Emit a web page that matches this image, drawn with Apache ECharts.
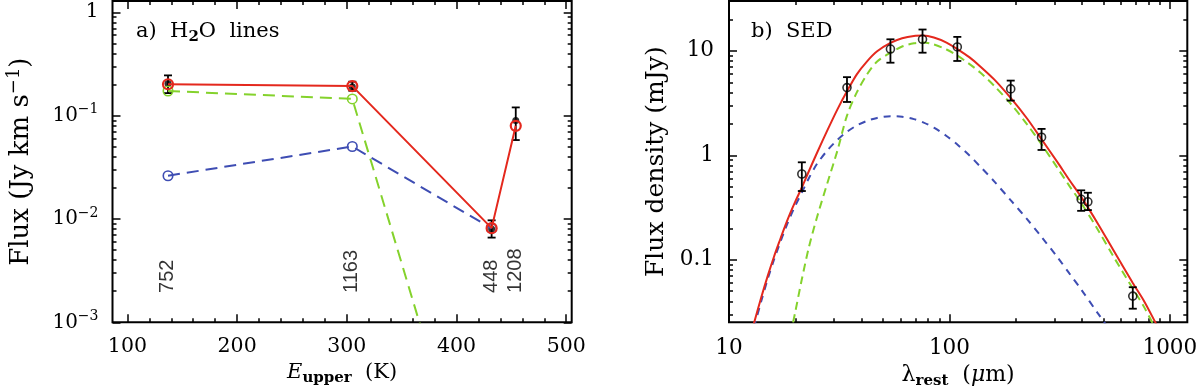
<!DOCTYPE html>
<html lang="en">
<head>
<meta charset="UTF-8">
<title>H2O lines / SED</title>
<script src="https://cdn.jsdelivr.net/npm/echarts@6/dist/echarts.min.js"></script>
<style>
    html, body { margin: 0; padding: 0; background: #fff; }
    #chart { width: 1200px; height: 389px; }
</style>
</head>
<body>
<div id="chart"></div>
<script>
// panel a) H2O lines
var eUpper    = [137, 305, 432, 454];
var lineFreq  = ['752', '1163', '448', '1208'];
var obsLine   = [0.205, 0.19, 0.0080, 0.0895];
var obsLineLo = [0.165, 0.174, 0.0066, 0.058];
var obsLineHi = [0.245, 0.213, 0.0097, 0.12];
var totLine   = [0.201, 0.193, 0.00815, 0.0796];
var coldLine  = [0.173, 0.145, 0.0000047];
var warmLine  = [0.0262, 0.0502, 0.0081];
var freqLabelY = 0.0019;

// panel b) SED
var sedWave = [21.4, 34.3, 54.0, 75.5, 108.6, 189.7, 261.8, 396, 424.6, 679];
var sedFlux = [0.662, 4.45, 10.4, 12.9, 10.9, 4.32, 1.49, 0.379, 0.359, 0.0449];
var sedLo   = [0.455, 3.24, 7.7, 9.6, 8.0, 3.34, 1.125, 0.294, 0.299, 0.034];
var sedHi   = [0.857, 5.6, 12.9, 16.0, 13.6, 5.19, 1.79, 0.462, 0.438, 0.0546];

var modelWave = [12, 13, 14, 15, 16, 17, 18, 19, 20, 21.4, 23, 25, 28, 31, 34.3, 38, 42.4, 47, 54, 61,
                 69, 76, 85, 97, 108.6, 123, 138, 160, 190, 225, 262, 310, 350, 396, 470, 554, 679, 760, 870, 950];
var modelTot  = [0.014, 0.025, 0.0435, 0.0705, 0.107, 0.153, 0.212, 0.282, 0.362, 0.492, 0.70, 1.04, 1.75, 2.74,
                 4.1, 5.96, 7.98, 9.9, 11.9, 13.2, 13.9, 14.0, 13.4, 12.0, 10.4, 8.7, 7.1, 5.3, 3.52, 2.25, 1.42,
                 0.85, 0.58, 0.40, 0.224, 0.124, 0.06, 0.041, 0.024, 0.017];
var modelCold = [null, null, null, null, null, null, null, 0.019, 0.032, 0.065, 0.13, 0.25, 0.55, 1.1,
                 2.4, 4.0, 6.0, 7.9, 9.6, 11.0, 11.8, 12.0, 11.5, 10.3, 9.0, 7.5, 6.2, 4.6, 3.1, 1.98, 1.27,
                 0.75, 0.51, 0.35, 0.196, 0.108, 0.053, 0.036, 0.021, 0.015];
var modelWarm = [0.013, 0.023, 0.04, 0.066, 0.1, 0.143, 0.197, 0.26, 0.33, 0.44, 0.6, 0.82, 1.12, 1.4,
                 1.68, 1.93, 2.14, 2.28, 2.37, 2.34, 2.22, 2.07, 1.84, 1.53, 1.27, 1.0, 0.78, 0.56, 0.37, 0.245,
                 0.165, 0.105, 0.074, 0.052, 0.031, 0.019, 0.01, null, null, null];

// ticks
var eTicks   = [100, 200, 300, 400, 500];
var eMinor   = [120, 140, 160, 180, 220, 240, 260, 280, 320, 340, 360, 380, 420, 440, 460, 480];
var fluxTicks = [0.001, 0.01, 0.1, 1];
var fluxTickText = ['{b|10}{s|\u22123}', '{b|10}{s|\u22122}', '{b|10}{s|\u22121}', '{b|1}'];
var fluxMinor = [0.002, 0.003, 0.004, 0.005, 0.006, 0.007, 0.008, 0.009,
                 0.02, 0.03, 0.04, 0.05, 0.06, 0.07, 0.08, 0.09,
                 0.2, 0.3, 0.4, 0.5, 0.6, 0.7, 0.8, 0.9];
var waveTicks = [10, 100, 1000];
var waveTickText = ['10', '100', '1000'];
var waveMinor = [20, 30, 40, 50, 60, 70, 80, 90, 200, 300, 400, 500, 600, 700, 800, 900];
var sedTicks = [0.1, 1, 10];
var sedTickText = ['0.1', '1', '10'];
var sedMinor = [0.03, 0.04, 0.05, 0.06, 0.07, 0.08, 0.09, 0.2, 0.3, 0.4, 0.5, 0.6, 0.7, 0.8, 0.9,
                2, 3, 4, 5, 6, 7, 8, 9, 20];

var SERIF = 'DejaVu Serif';
var RED = '#e4281d', GREEN = '#84d22c', BLUE = '#3e4db3';

function nearest(list, v) {
    var best = 0;
    for (var i = 1; i < list.length; i++) {
        if (Math.abs(Math.log(list[i] / v)) < Math.abs(Math.log(list[best] / v))) best = i;
    }
    return best;
}

// 4 axes per direction: labelled major, minor, mirrored major, mirrored minor
function axes(dim, grid, type, min, max, major, minor, label, name) {
    var sides = dim === 'x' ? ['bottom', 'top'] : ['left', 'right'];
    var out = [];
    sides.forEach(function (side, si) {
        [major, minor].forEach(function (vals, k) {
            var a = {
                type: type, gridIndex: grid, position: side, min: min, max: max,
                axisLine: {show: false},
                splitLine: {show: false},
                axisTick: {show: true, inside: true, length: k ? 4 : 8, customValues: vals,
                           lineStyle: {color: '#000', width: 1.5}},
                axisLabel: {show: false}
            };
            if (type === 'log') a.logBase = 10;
            if (si === 0 && k === 0) {
                a.axisLabel = label;
                for (var key in name) a[key] = name[key];
            }
            out.push(a);
        });
    });
    return out;
}

function rich(size, lh) {
    var sm = Math.round(size * 0.7);
    return {
        n: {fontFamily: SERIF, fontSize: size, lineHeight: lh, color: '#000'},
        i: {fontFamily: SERIF, fontSize: size, lineHeight: lh, fontStyle: 'italic', color: '#000'},
        sub: {fontFamily: SERIF, fontSize: sm, lineHeight: Math.round(lh * 0.4), fontWeight: 'bold',
              verticalAlign: 'bottom', color: '#000'},
        sup: {fontFamily: SERIF, fontSize: sm, lineHeight: sm, verticalAlign: 'top', color: '#000'},
        b: {fontFamily: SERIF, fontSize: size, lineHeight: lh, color: '#000'},
        s: {fontFamily: SERIF, fontSize: sm, lineHeight: sm, verticalAlign: 'top', color: '#000'}
    };
}

function errBar(params, api) {
    var x = api.value(0);
    var lo = api.coord([x, api.value(1)]);
    var hi = api.coord([x, api.value(2)]);
    var w = 4;
    var st = {stroke: '#000', lineWidth: 1.8};
    return {type: 'group', children: [
        {type: 'line', shape: {x1: lo[0], y1: lo[1], x2: hi[0], y2: hi[1]}, style: st},
        {type: 'line', shape: {x1: lo[0] - w, y1: lo[1], x2: lo[0] + w, y2: lo[1]}, style: st},
        {type: 'line', shape: {x1: hi[0] - w, y1: hi[1], x2: hi[0] + w, y2: hi[1]}, style: st}
    ]};
}

function pairs(xs, ys) {
    var out = [];
    for (var i = 0; i < ys.length; i++) if (ys[i] != null) out.push([xs[i], ys[i]]);
    return out;
}

var xAxes = [].concat(
    axes('x', 0, 'value', 86.4, 505, eTicks, eMinor,
        {show: true, customValues: eTicks, margin: 14, fontFamily: SERIF, fontSize: 20.5, color: '#000'},
        {name: '{i|E}{sub|upper}{n|  (K)}', nameLocation: 'middle', nameGap: 36,
         nameTextStyle: {rich: rich(21, 26)}}),
    axes('x', 1, 'log', 10, 1200, waveTicks, waveMinor,
        {show: true, customValues: waveTicks, margin: 15, fontFamily: SERIF, fontSize: 21.5, color: '#000',
         formatter: function (v) { return waveTickText[nearest(waveTicks, v)]; }},
        {name: '{n|\u03bb}{sub|rest}{n|  (}{i|\u03bc}{n|m)}', nameLocation: 'middle', nameGap: 37,
         nameTextStyle: {rich: rich(22, 26)}})
);

var yAxes = [].concat(
    axes('y', 0, 'log', 0.001, 1.285, fluxTicks, fluxMinor,
        {show: true, customValues: fluxTicks, margin: 14, rich: rich(20, 26),
         formatter: function (v) { return fluxTickText[nearest(fluxTicks, v)]; }},
        {name: '{n|Flux (Jy km s}{sup|\u22121}{n|)}', nameLocation: 'middle', nameGap: 75,
         nameTextStyle: {rich: rich(26, 32)}}),
    axes('y', 1, 'log', 0.0252, 30, sedTicks, sedMinor,
        {show: true, customValues: sedTicks, margin: 15, fontFamily: SERIF, fontSize: 21.5, color: '#000',
         formatter: function (v) { return sedTickText[nearest(sedTicks, v)]; }},
        {name: 'Flux density (mJy)', nameLocation: 'middle', nameGap: 58,
         nameTextStyle: {fontFamily: SERIF, fontSize: 25, lineHeight: 30, color: '#000'}})
);

var option = {
    animation: false,
    backgroundColor: '#fff',
    grid: [
        {left: 112.5, top: 1, width: 459.2, height: 321.3, show: true, borderColor: '#000', borderWidth: 2,
         containLabel: false, outerBoundsMode: 'none'},
        {left: 729, top: 1, width: 458.3, height: 321.3, show: true, borderColor: '#000', borderWidth: 2,
         containLabel: false, outerBoundsMode: 'none'}
    ],
    xAxis: xAxes,
    yAxis: yAxes,
    graphic: [
        {type: 'text', x: 136, y: 32, style: {text: '{n|a)  H}{sub|2}{n|O  lines}', rich: rich(21, 26),
                                               verticalAlign: 'middle', align: 'left'}},
        {type: 'text', x: 751, y: 32, style: {text: '{n|b)  SED}', rich: rich(21, 26),
                                               verticalAlign: 'middle', align: 'left'}}
    ],
    series: [
        // panel a
        {type: 'custom', xAxisIndex: 0, yAxisIndex: 0, renderItem: errBar, encode: {x: 0, y: [1, 2]},
         data: eUpper.map(function (e, i) { return [e, obsLineLo[i], obsLineHi[i]]; }), z: 3},
        {type: 'scatter', xAxisIndex: 0, yAxisIndex: 0, symbol: 'circle', symbolSize: 7,
         itemStyle: {color: '#000'}, data: pairs(eUpper, obsLine), z: 3},
        {type: 'line', xAxisIndex: 0, yAxisIndex: 0, data: pairs(eUpper, coldLine),
         symbol: 'circle', symbolSize: 9.5, showAllSymbol: true,
         itemStyle: {color: 'rgba(0,0,0,0)', borderColor: GREEN, borderWidth: 1.6},
         lineStyle: {color: GREEN, width: 2, type: [12, 7]}, z: 4},
        {type: 'line', xAxisIndex: 0, yAxisIndex: 0, data: pairs(eUpper, warmLine),
         symbol: 'circle', symbolSize: 9.5, showAllSymbol: true,
         itemStyle: {color: 'rgba(0,0,0,0)', borderColor: BLUE, borderWidth: 1.6},
         lineStyle: {color: BLUE, width: 2, type: [12, 7]}, z: 4},
        {type: 'line', xAxisIndex: 0, yAxisIndex: 0, data: pairs(eUpper, totLine),
         symbol: 'circle', symbolSize: 10, showAllSymbol: true,
         itemStyle: {color: 'rgba(0,0,0,0)', borderColor: RED, borderWidth: 2.2},
         lineStyle: {color: RED, width: 2}, z: 5},
        {type: 'scatter', xAxisIndex: 0, yAxisIndex: 0, symbolSize: 1, silent: true,
         itemStyle: {color: 'rgba(0,0,0,0)'},
         data: eUpper.map(function (e, i) { return {value: [e, freqLabelY], name: lineFreq[i]}; }),
         label: {show: true, formatter: '{b}', position: [0, 0], rotate: 90, align: 'left',
                 verticalAlign: 'middle', fontFamily: 'Liberation Sans', fontSize: 20, color: '#000'}, z: 6},
        // panel b
        {type: 'line', xAxisIndex: 4, yAxisIndex: 4, data: pairs(modelWave, modelWarm), showSymbol: false,
         smooth: 0.3, lineStyle: {color: BLUE, width: 2, type: [7, 6]}, z: 2},
        {type: 'line', xAxisIndex: 4, yAxisIndex: 4, data: pairs(modelWave, modelCold), showSymbol: false,
         smooth: 0.3, lineStyle: {color: GREEN, width: 2, type: [8, 5]}, z: 2},
        {type: 'line', xAxisIndex: 4, yAxisIndex: 4, data: pairs(modelWave, modelTot), showSymbol: false,
         smooth: 0.3, lineStyle: {color: RED, width: 2}, z: 3},
        {type: 'custom', xAxisIndex: 4, yAxisIndex: 4, renderItem: errBar, encode: {x: 0, y: [1, 2]},
         data: sedWave.map(function (w, i) { return [w, sedLo[i], sedHi[i]]; }), z: 4},
        {type: 'scatter', xAxisIndex: 4, yAxisIndex: 4, symbol: 'circle', symbolSize: 8,
         itemStyle: {color: 'rgba(0,0,0,0)', borderColor: '#000', borderWidth: 1.6},
         data: pairs(sedWave, sedFlux), z: 4}
    ]
};

var chart = echarts.init(document.getElementById('chart'));
chart.setOption(option);
</script>
</body>
</html>
